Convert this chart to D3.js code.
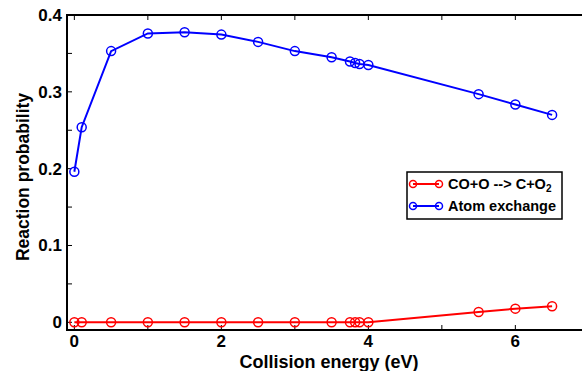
<!DOCTYPE html>
<html>
<head>
<meta charset="utf-8">
<script src="https://cdn.jsdelivr.net/npm/d3@7"></script>
<style>
  body { margin: 0; background: #fff; }
  svg { display: block; font-family: "Liberation Sans", Arial, sans-serif; font-weight: bold; }
</style>
</head>
<body>
<svg></svg>
<script>
// collision energies (eV)
const energy = [0, 0.1, 0.5, 1, 1.5, 2, 2.5, 3, 3.5, 3.75, 3.82, 3.88, 4, 5.5, 6, 6.5];
// CO+O --> C+O2
const dissociation = [0, 0, 0, 0, 0, 0, 0, 0, 0, 0, 0, 0, 0, 0.0134, 0.0178, 0.021];
// atom exchange
const exchange = [0.196, 0.254, 0.353, 0.376, 0.3775, 0.3745, 0.365, 0.353, 0.345, 0.3394, 0.3375, 0.3362, 0.335, 0.297, 0.2835, 0.270];

const xTicks = [0, 2, 4, 6];
const yTicks = [0, 0.1, 0.2, 0.3, 0.4];

const series = [
    { name: 'dissoc', values: dissociation, color: '#ff0000' },
    { name: 'exchange', values: exchange, color: '#0000ff' }
];

function createElements(){
    const svg = d3.select('svg')
        .attr('width', 582)
        .attr('height', 371);

    const left = 67, top = 15, bottom = 330;
    const x = d3.scaleLinear().domain([-0.1, 7]).range([left, left + 7.1 * 73.5]);
    const y = d3.scaleLinear().domain([-0.01, 0.4]).range([bottom, top]);
    const right = x(7);

    // frame
    svg.append('rect')
        .attr('x', left).attr('y', top)
        .attr('width', right - left).attr('height', bottom - top)
        .attr('fill', 'none').attr('stroke', 'black').attr('stroke-width', 2);

    const tickLen = 5;
    const xAll = d3.range(0, 8, 1);
    const yAll = d3.range(0, 0.41, 0.05);

    xAll.forEach(function(v){
        svg.append('line').attr('x1', x(v)).attr('x2', x(v))
            .attr('y1', bottom).attr('y2', bottom - tickLen)
            .attr('stroke', 'black').attr('stroke-width', 1);
        svg.append('line').attr('x1', x(v)).attr('x2', x(v))
            .attr('y1', top).attr('y2', top + tickLen)
            .attr('stroke', 'black').attr('stroke-width', 1);
    });
    yAll.forEach(function(v){
        svg.append('line').attr('x1', left).attr('x2', left + tickLen)
            .attr('y1', y(v)).attr('y2', y(v))
            .attr('stroke', 'black').attr('stroke-width', 1);
    });

    svg.selectAll('.xlab').data(xTicks).enter().append('text')
        .attr('x', d => x(d)).attr('y', 347)
        .attr('text-anchor', 'middle')
        .attr('font-size', 17)
        .text(d => d);

    svg.selectAll('.ylab').data(yTicks).enter().append('text')
        .attr('x', 62).attr('y', d => y(d) + 6)
        .attr('text-anchor', 'end')
        .attr('font-size', 17)
        .text(d => d === 0 ? '0' : d3.format('.1f')(d));

    svg.append('text')
        .attr('x', 329).attr('y', 368)
        .attr('text-anchor', 'middle')
        .attr('font-size', 18)
        .text('Collision energy (eV)');

    svg.append('text')
        .attr('transform', 'translate(29, 177) rotate(-90)')
        .attr('text-anchor', 'middle')
        .attr('font-size', 17.5)
        .text('Reaction probability');

    const line = d3.line().x((d, i) => x(energy[i])).y(d => y(d));

    series.forEach(function(s){
        svg.append('path')
            .attr('d', line(s.values))
            .attr('fill', 'none')
            .attr('stroke', s.color)
            .attr('stroke-width', 2);
        svg.selectAll('.pt-' + s.name).data(s.values).enter().append('circle')
            .attr('cx', (d, i) => x(energy[i]))
            .attr('cy', d => y(d))
            .attr('r', 4.5)
            .attr('fill', 'none')
            .attr('stroke', s.color)
            .attr('stroke-width', 1.5);
    });

    // legend
    const lg = svg.append('g').attr('transform', 'translate(407, 172)');
    lg.append('rect').attr('width', 155).attr('height', 47)
        .attr('fill', 'white').attr('stroke', 'black').attr('stroke-width', 1.5);

    const rows = [
        { color: '#ff0000', y: 12 },
        { color: '#0000ff', y: 34 }
    ];
    rows.forEach(function(r){
        lg.append('line').attr('x1', 6).attr('x2', 32)
            .attr('y1', r.y).attr('y2', r.y)
            .attr('stroke', r.color).attr('stroke-width', 2);
        [6, 32].forEach(function(cx){
            lg.append('circle').attr('cx', cx).attr('cy', r.y).attr('r', 3.5)
                .attr('fill', 'none').attr('stroke', r.color).attr('stroke-width', 1.5);
        });
    });

    const t1 = lg.append('text').attr('x', 41).attr('y', 17).attr('font-size', 14.5);
    t1.append('tspan').text('CO+O --> C+O');
    t1.append('tspan').attr('font-size', 10).attr('dy', 3).text('2');

    lg.append('text').attr('x', 41).attr('y', 39).attr('font-size', 14.5).text('Atom exchange');
}

createElements();
</script>
</body>
</html>
